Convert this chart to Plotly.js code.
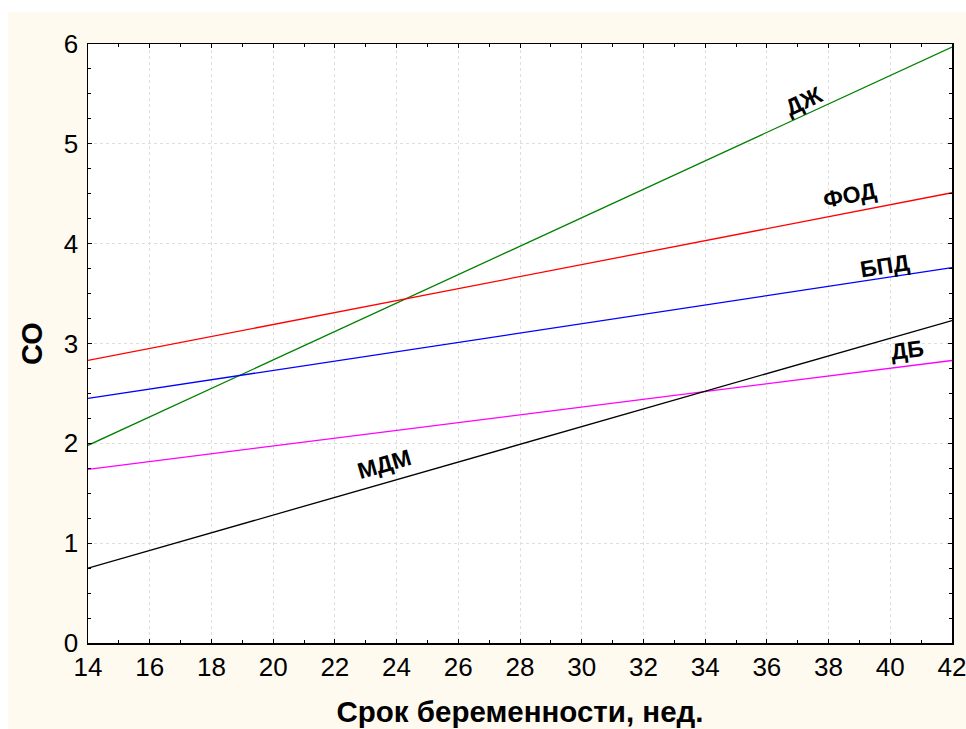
<!DOCTYPE html>
<html>
<head>
<meta charset="utf-8">
<script src="https://cdn.plot.ly/plotly-3.0.1.min.js"></script>
<style>
html,body{margin:0;padding:0;background:#ffffff;}
#chart{position:absolute;left:8px;top:12px;width:958px;height:717px;}
</style>
</head>
<body>
<div id="chart"></div>
<script>
const weeks = [14, 42];
const seriesNames = ["ДЖ", "ФОД", "БПД", "ДБ", "МДМ"];
const seriesColors = ["#008000", "#ff0000", "#0000ff", "#ff00ff", "#000000"];
const valuesDJ  = [1.98, 5.97];
const valuesFOD = [2.83, 4.51];
const valuesBPD = [2.45, 3.76];
const valuesDB  = [1.74, 2.83];
const valuesMDM = [0.75, 3.23];
const labelX = [37.2, 38.7, 39.8, 40.57, 23.6];
const labelY = [5.43, 4.49, 3.78, 2.93, 1.79];
const labelAngle = [-24.7, -10.9, -8.6, -7.2, -16];

const allValues = [valuesDJ, valuesFOD, valuesBPD, valuesDB, valuesMDM];

const traces = allValues.map((v, i) => ({
  x: weeks, y: v, type: 'scatter', mode: 'lines',
  name: seriesNames[i],
  line: {color: seriesColors[i], width: 1.3},
  hoverinfo: 'skip'
}));

const annotations = seriesNames.map((n, i) => ({
  x: labelX[i], y: labelY[i], xref: 'x', yref: 'y',
  text: n, showarrow: false, textangle: labelAngle[i],
  font: {family: 'Liberation Sans, Arial, sans-serif', size: 23, color: '#000', weight: 'bold'}
}));

const layout = {
  width: 958, height: 717,
  margin: {l: 80, r: 14, t: 32, b: 86},
  paper_bgcolor: '#fefaf0',
  plot_bgcolor: '#ffffff',
  showlegend: false,
  font: {family: 'Liberation Sans, Arial, sans-serif', color: '#000'},
  xaxis: {
    range: [14, 42], dtick: 2, tick0: 14,
    showgrid: true, gridcolor: '#dedede', griddash: 'dot', gridwidth: 1,
    zeroline: false, showline: true, linecolor: '#000', linewidth: 1.5, mirror: 'ticks',
    ticks: 'inside', ticklen: 4, tickcolor: '#000', tickwidth: 1,
    minor: {dtick: 1, ticks: 'inside', ticklen: 3, tickcolor: '#000', showgrid: false},
    tickfont: {size: 26}, ticklabeloverflow: 'allow',
    title: {text: 'Срок беременности, нед.', font: {size: 29.5, weight: 'bold'}, standoff: 20}
  },
  yaxis: {
    range: [0, 6], dtick: 1,
    showgrid: true, gridcolor: '#dedede', griddash: 'dot', gridwidth: 1,
    zeroline: false, showline: true, linecolor: '#000', linewidth: 1.5, mirror: 'ticks',
    ticks: 'inside', ticklen: 4, tickcolor: '#000', tickwidth: 1,
    minor: {dtick: 0.25, ticks: 'inside', ticklen: 3, tickcolor: '#000', showgrid: false},
    tickfont: {size: 26}, ticklabelstandoff: 3,
    title: {text: 'СО', font: {size: 29, weight: 'bold'}, standoff: 12}
  },
  annotations: annotations
};

Plotly.newPlot('chart', traces, layout, {displayModeBar: false, staticPlot: true});
</script>
</body>
</html>
